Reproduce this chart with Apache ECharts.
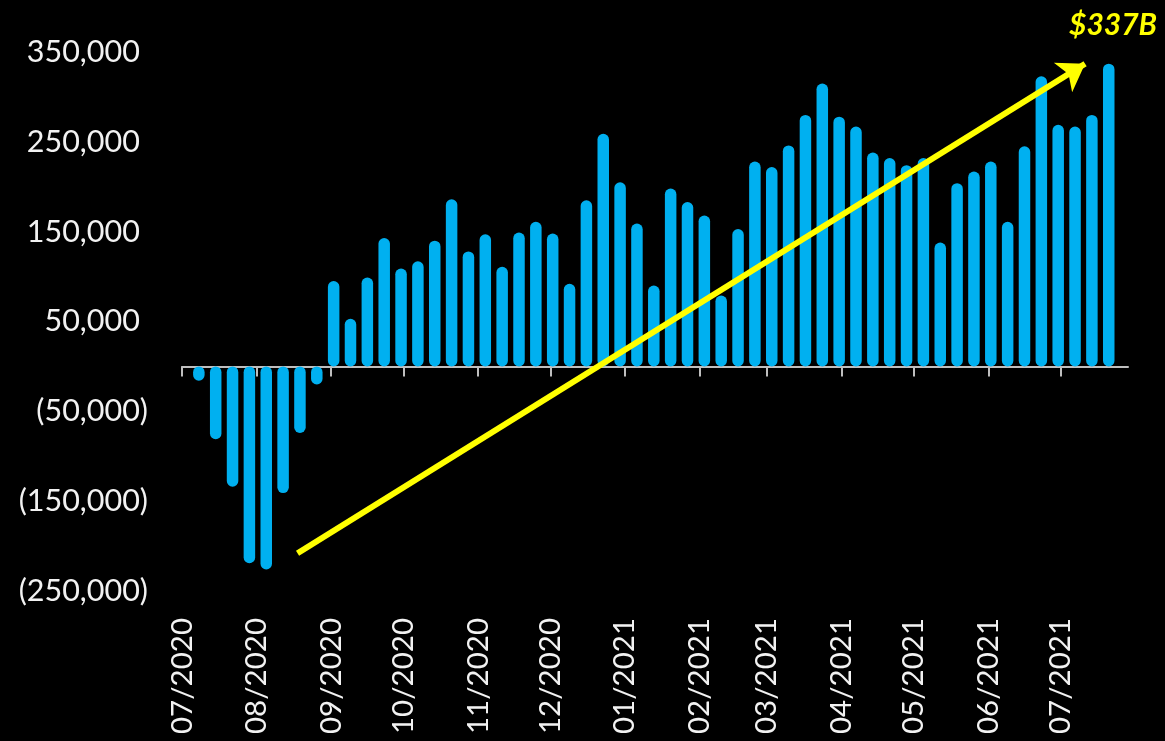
<!DOCTYPE html>
<html><head><meta charset="utf-8">
<script src="https://cdn.jsdelivr.net/npm/echarts@6/dist/echarts.min.js"></script>
<style>html,body{margin:0;padding:0;background:#000;} #c{width:1165px;height:741px;}</style>
</head><body><div id="c"></div>
<script>
// Weekly dates (Wednesdays)
const weekDates = [
  '2020-07-08','2020-07-15','2020-07-22','2020-07-29','2020-08-05','2020-08-12','2020-08-19','2020-08-26',
  '2020-09-02','2020-09-09','2020-09-16','2020-09-23','2020-09-30','2020-10-07','2020-10-14','2020-10-21',
  '2020-10-28','2020-11-04','2020-11-11','2020-11-18','2020-11-25','2020-12-02','2020-12-09','2020-12-16',
  '2020-12-23','2020-12-30','2021-01-06','2021-01-13','2021-01-20','2021-01-27','2021-02-03','2021-02-10',
  '2021-02-17','2021-02-24','2021-03-03','2021-03-10','2021-03-17','2021-03-24','2021-03-31','2021-04-07',
  '2021-04-14','2021-04-21','2021-04-28','2021-05-05','2021-05-12','2021-05-19','2021-05-26','2021-06-02',
  '2021-06-09','2021-06-16','2021-06-23','2021-06-30','2021-07-07','2021-07-14','2021-07-21'
];
const weeklyValues = [
  -16000, -81000, -134000, -219000, -226000, -141000, -74000, -20000,
  95000, 53000, 99000, 143000, 109000, 117000, 140000, 186000, 128000,
  147000, 111000, 149000, 161000, 148000, 92000, 185000, 259000, 205000,
  159000, 90000, 198000, 183000, 168000, 79000, 153000, 228000, 222000,
  246000, 280000, 315000, 278000, 267000, 238000, 232000, 224000, 232000,
  138000, 204000, 217000, 228000, 161000, 245000, 323000, 269000, 267000, 280000, 337000
];
const monthTickDates = [
  '2020-07-01','2020-08-01','2020-09-01','2020-10-01','2020-11-01','2020-12-01','2021-01-01',
  '2021-02-01','2021-03-01','2021-04-01','2021-05-01','2021-06-01','2021-07-01'
];
const yTickValues = [-250000, -150000, -50000, 50000, 150000, 250000, 350000];
const xRange = ['2020-07-01', '2021-07-29'];
const yRange = [-250000, 350000];
const arrowStart = ['2020-08-18', -208000];
const arrowEnd = ['2021-07-11T04:00:00', 337000];
const annotationText = '$337B';

const parseT = s => new Date(s.length === 10 ? s + 'T00:00:00' : s).getTime();
const monthTicks = monthTickDates.map(parseT);
const fmtNum = v => Math.round(v).toString().replace(/\B(?=(\d{3})+(?!\d))/g, ',');
const FONT = 'Lato';
const TXT = '#f2f2f2';
const AX = '#bfbfbf';

const chart = echarts.init(document.getElementById('c'));
chart.setOption({
  backgroundColor: '#000000',
  animation: false,
  grid: { left: 182, right: 37, top: 52, bottom: 150, outerBoundsMode: 'none', containLabel: false },
  xAxis: [
    {
      type: 'value', position: 'bottom', scale: true,
      min: parseT(xRange[0]), max: parseT(xRange[1]),
      axisLine: { show: true, onZero: true, lineStyle: { color: AX, width: 2 } },
      axisTick: { show: true, customValues: monthTicks, length: 10, inside: false, lineStyle: { color: AX, width: 2 } },
      axisLabel: { show: false },
      splitLine: { show: false }
    },
    {
      type: 'value', position: 'bottom', scale: true,
      min: parseT(xRange[0]), max: parseT(xRange[1]),
      axisLine: { show: false, onZero: false },
      axisTick: { show: false },
      splitLine: { show: false },
      axisLabel: {
        show: true, customValues: monthTicks, rotate: 90, margin: 27,
        fontFamily: FONT, fontSize: 29.5, color: TXT,
        formatter: function (v) {
          const d = new Date(v);
          return String(d.getMonth() + 1).padStart(2, '0') + '/' + d.getFullYear();
        }
      }
    }
  ],
  yAxis: {
    type: 'value', min: yRange[0], max: yRange[1],
    axisLine: { show: false }, axisTick: { show: false }, splitLine: { show: false },
    axisLabel: {
      customValues: yTickValues, margin: 34,
      fontFamily: FONT, fontSize: 30.5, color: TXT,
      formatter: function (v) {
        return v < 0 ? '{n|(' + fmtNum(-v) + ')}' : '{n|' + fmtNum(v) + '}{h|)}';
      },
      rich: {
        n: { fontFamily: FONT, fontSize: 30.5, color: TXT },
        h: { fontFamily: FONT, fontSize: 30.5, color: 'transparent' }
      }
    }
  },
  series: [{
    type: 'bar',
    xAxisIndex: 0,
    barWidth: 11.5,
    itemStyle: { color: '#00B0F0', borderRadius: 5.75 },
    data: weekDates.map((d, i) => [parseT(d), weeklyValues[i]]),
    markLine: {
      silent: true,
      symbol: ['none', 'arrow'],
      symbolSize: 26,
      lineStyle: { color: '#FFFF00', width: 6, type: 'solid' },
      itemStyle: { color: '#FFFF00' },
      label: { show: false },
      emphasis: { disabled: true },
      data: [[{ coord: [parseT(arrowStart[0]), arrowStart[1]] }, { coord: [parseT(arrowEnd[0]), arrowEnd[1]] }]]
    }
  }],
  graphic: [{
    type: 'text',
    x: 1113, y: 25,
    style: {
      text: annotationText, fill: '#FFFF00',
      font: 'italic bold 30px Lato',
      align: 'center', verticalAlign: 'middle'
    }
  }]
});
</script>
</body></html>
